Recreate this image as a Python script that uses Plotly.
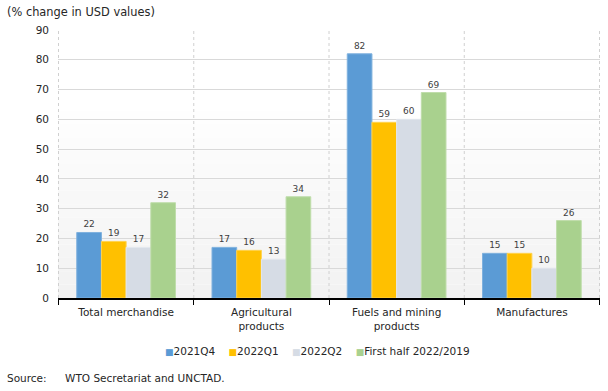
import plotly.graph_objects as go

categories = ["Total merchandise", "Agricultural<br>products", "Fuels and mining<br>products", "Manufactures"]
series_names = ["2021Q4", "2022Q1", "2022Q2", "First half 2022/2019"]
v_2021q4 = [22, 17, 82, 15]
v_2022q1 = [19, 16, 59, 15]
v_2022q2 = [17, 13, 60, 10]
v_first_half = [32, 34, 69, 26]
y_ticks = [0, 10, 20, 30, 40, 50, 60, 70, 80, 90]

colors = ["#5B9BD5", "#FFC000", "#D6DCE5", "#A9D18E"]
border = ["#7FB1DE", "#FFD24D", "#E3E7EE", "#BFDDAB"]
font = "DejaVu Sans, Verdana, sans-serif"
txt = "#262626"

fig = go.Figure()
for name, vals, c, b in zip(series_names, [v_2021q4, v_2022q1, v_2022q2, v_first_half], colors, border):
    fig.add_trace(go.Bar(
        x=categories, y=vals, name=name,
        marker=dict(color=c, line=dict(color=b, width=1)),
        text=[str(v) for v in vals], textposition="outside",
        textfont=dict(size=9, color="#404040", family=font),
        cliponaxis=False, showlegend=False,
    ))

# gradient-like plot background
shapes = []
n = 20
for i in range(n):
    y0 = i / n
    y1 = (i + 1) / n
    t = max(0.0, 1 - (i + 0.5) / n / 0.7)
    g = int(242 + (255 - 242) * (1 - t))
    shapes.append(dict(type="rect", xref="paper", yref="paper", x0=0, x1=1, y0=y0, y1=y1,
                       fillcolor=f"rgb({g},{g},{g})", line=dict(width=0), layer="below"))
for xb in [-0.5, 0.5, 1.5, 2.5, 3.5]:
    shapes.append(dict(type="line", xref="x", yref="paper", x0=xb, x1=xb, y0=0, y1=1,
                       line=dict(color="#D0D0D0", width=1, dash="dot"), layer="below"))

# legend built as a text line
legend_parts = []
for name, c in zip(series_names, colors):
    legend_parts.append(f"<span style='color:{c};font-size:9px'>■</span>{name}")
legend_text = "&nbsp;&nbsp;&nbsp;&nbsp;".join(legend_parts)

fig.update_layout(
    width=608, height=391,
    margin=dict(l=58, r=8, t=30, b=93),
    paper_bgcolor="white", plot_bgcolor="rgba(0,0,0,0)",
    barmode="group", bargap=0.27, bargroupgap=0,
    font=dict(family=font, size=10.5, color=txt),
    shapes=shapes,
    showlegend=False,
    annotations=[
        dict(text="(% change in USD values)", xref="paper", yref="paper", x=-0.0978, y=1.067,
             xanchor="left", yanchor="middle", showarrow=False,
             font=dict(size=11.4, color=txt)),
        dict(text=legend_text, xref="paper", yref="paper", x=0.478, y=-0.198,
             xanchor="center", yanchor="middle", showarrow=False,
             font=dict(size=10.5, color=txt)),
        dict(text="Source:", xref="paper", yref="paper",
             x=-0.0978, y=-0.2985, xanchor="left", yanchor="middle", showarrow=False,
             font=dict(size=10.5, color=txt)),
        dict(text="WTO Secretariat and UNCTAD.", xref="paper", yref="paper",
             x=0.0092, y=-0.2985, xanchor="left", yanchor="middle", showarrow=False,
             font=dict(size=10.5, color=txt)),
    ],
)
fig.update_xaxes(showgrid=False, showline=True, linecolor="#000000", linewidth=1.5,
                 ticks="outside", tickson="boundaries", ticklen=5, tickcolor="#000000",
                 tickfont=dict(size=10.5, color=txt), ticklabelstandoff=4)
fig.update_yaxes(range=[0, 90], tickvals=y_ticks, showgrid=True, gridcolor="#D9D9D9",
                 gridwidth=1, zeroline=False, showline=False, ticks="",
                 tickfont=dict(size=10.5, color=txt), ticklabelstandoff=8)

fig.write_html("out.html", config={"displayModeBar": False},
               post_script="document.body.style.margin='0px';")
